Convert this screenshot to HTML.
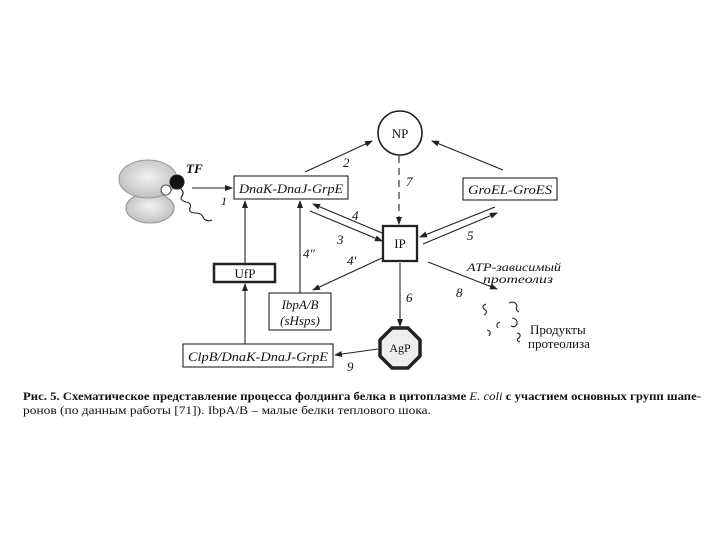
<!DOCTYPE html>
<html><head><meta charset="utf-8"><style>
body{margin:0;background:#fff;}
svg{display:block}
.i{font-family:"Liberation Serif",serif;font-style:italic;}
.r{font-family:"Liberation Serif",serif;}
</style></head><body>
<svg width="720" height="540" viewBox="0 0 720 540" xmlns="http://www.w3.org/2000/svg">
<defs>
<marker id="a" markerWidth="8" markerHeight="6" refX="7" refY="3" orient="auto" markerUnits="userSpaceOnUse"><path d="M0,0 L8,3 L0,6 Z" fill="#222"/></marker>
<radialGradient id="g" cx="50%" cy="45%" r="60%"><stop offset="0" stop-color="#f2f2f2"/><stop offset="1" stop-color="#bcbcbc"/></radialGradient>
</defs>
<g stroke="#222" stroke-width="1.1" fill="none">
<ellipse cx="150" cy="208" rx="24" ry="15" fill="url(#g)" stroke="#999"/>
<ellipse cx="148" cy="179" rx="29" ry="19" fill="url(#g)" stroke="#999"/>
<circle cx="166" cy="190" r="5" fill="#fff" stroke="#555"/>
<circle cx="177" cy="182" r="7" fill="#111"/>
<path d="M180,188 q5,4 2,8 q-3,4 4,6 q6,1 4,6 q-2,5 6,5 q6,0 8,6 q4,3 8,1" />
<line x1="192" y1="188" x2="232" y2="188" marker-end="url(#a)"/>
<rect x="234" y="176" width="114" height="23" fill="#fff"/>
<rect x="214" y="264" width="61" height="18" stroke-width="2.5" fill="#fff"/>
<rect x="269" y="293" width="62" height="37" fill="#fff"/>
<rect x="183" y="344" width="150" height="23" fill="#fff"/>
<rect x="463" y="178" width="94" height="22" fill="#fff"/>
<rect x="383" y="226" width="34" height="35" stroke-width="2.3" fill="#fff"/>
<circle cx="400" cy="133" r="22" stroke-width="1.6" fill="#fff"/>
<polygon points="392,328 408,328 420,340 420,356 408,368 392,368 380,356 380,340" stroke-width="3.5" fill="#eee"/>
<line x1="305" y1="172" x2="372" y2="141" marker-end="url(#a)"/>
<line x1="503" y1="170" x2="432" y2="141" marker-end="url(#a)"/>
<line x1="399" y1="156" x2="399" y2="224" stroke-dasharray="7,5" marker-end="url(#a)"/>
<line x1="245" y1="264" x2="245" y2="201" marker-end="url(#a)"/>
<line x1="245" y1="344" x2="245" y2="284" marker-end="url(#a)"/>
<line x1="300" y1="293" x2="300" y2="201" marker-end="url(#a)"/>
<line x1="382" y1="233" x2="313" y2="204" marker-end="url(#a)"/>
<line x1="310" y1="211" x2="382" y2="241" marker-end="url(#a)"/>
<line x1="382" y1="258" x2="313" y2="290" marker-end="url(#a)"/>
<line x1="495" y1="207" x2="420" y2="237" marker-end="url(#a)"/>
<line x1="423" y1="244" x2="497" y2="213" marker-end="url(#a)"/>
<line x1="400" y1="263" x2="400" y2="326" marker-end="url(#a)"/>
<line x1="428" y1="262" x2="497" y2="289" marker-end="url(#a)"/>
<line x1="378" y1="349" x2="335" y2="355" marker-end="url(#a)"/>
<path d="M486,304 q-5,2 -2,5 q5,3 0,6"/>
<path d="M509,303 q6,-3 8,3 q-2,4 2,6"/>
<path d="M500,322 q-5,2 -2,6 M512,318 q6,1 5,6 q-2,4 -6,2"/>
<path d="M487,330 q5,1 2,6"/>
<path d="M517,333 q5,1 2,5 q-4,2 1,4"/>
</g>
<g fill="#111">
<text class="i" x="186" y="173" font-size="13" font-weight="bold">TF</text>
<text class="i" x="221" y="205" font-size="12">1</text>
<text class="i" x="291" y="193" font-size="13" text-anchor="middle" textLength="104" lengthAdjust="spacingAndGlyphs">DnaK-DnaJ-GrpE</text>
<text class="r" x="245" y="278" font-size="13" text-anchor="middle">UfP</text>
<text class="i" x="300" y="309" font-size="13" text-anchor="middle">IbpA/B</text>
<text class="i" x="300" y="325" font-size="13" text-anchor="middle">(sHsps)</text>
<text class="i" x="258" y="361" font-size="13" text-anchor="middle" textLength="140" lengthAdjust="spacingAndGlyphs">ClpB/DnaK-DnaJ-GrpE</text>
<text class="i" x="510" y="194" font-size="13" text-anchor="middle" textLength="84" lengthAdjust="spacingAndGlyphs">GroEL-GroES</text>
<text class="r" x="400" y="138" font-size="13" text-anchor="middle">NP</text>
<text class="r" x="400" y="248" font-size="13" text-anchor="middle">IP</text>
<text class="r" x="400" y="352" font-size="12" text-anchor="middle">AgP</text>
<text class="i" x="343" y="167" font-size="13">2</text>
<text class="i" x="337" y="244" font-size="13">3</text>
<text class="i" x="352" y="220" font-size="13">4</text>
<text class="i" x="303" y="258" font-size="13">4″</text>
<text class="i" x="347" y="265" font-size="13">4′</text>
<text class="i" x="467" y="240" font-size="13">5</text>
<text class="i" x="406" y="302" font-size="13">6</text>
<text class="i" x="406" y="186" font-size="13">7</text>
<text class="i" x="456" y="297" font-size="13">8</text>
<text class="i" x="347" y="371" font-size="13">9</text>
<text class="i" x="467" y="271" font-size="12" textLength="94" lengthAdjust="spacingAndGlyphs">ATP-зависимый</text>
<text class="i" x="483" y="283" font-size="12" textLength="70" lengthAdjust="spacingAndGlyphs">протеолиз</text>
<text class="r" x="530" y="334" font-size="13">Продукты</text>
<text class="r" x="528" y="348" font-size="13">протеолиза</text>
<text class="r" x="23" y="400" font-size="11.5" font-weight="bold" textLength="678" lengthAdjust="spacingAndGlyphs">Рис. 5. Схематическое представление процесса фолдинга белка в цитоплазме <tspan font-style="italic" font-weight="normal">E. coli</tspan> с участием основных групп шапе-</text>
<text class="r" x="23" y="414" font-size="11.5" textLength="408" lengthAdjust="spacingAndGlyphs">ронов (по данным работы [71]). IbpA/B – малые белки теплового шока.</text>
</g>
</svg>
</body></html>
